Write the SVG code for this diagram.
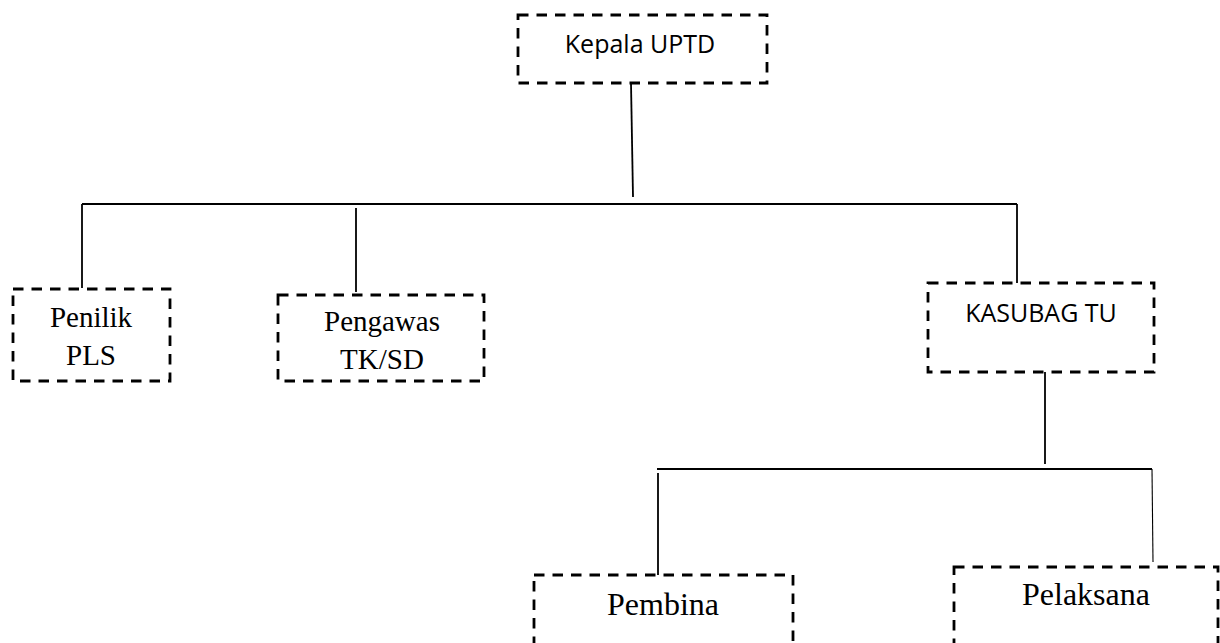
<svg xmlns="http://www.w3.org/2000/svg" width="1220" height="643" viewBox="0 0 1220 643">
<style>
.box{fill:none;stroke:#000;stroke-width:2.8;stroke-dasharray:10.5 8}
.c{fill:none;stroke:#000;stroke-width:1.8}
.thin{stroke-width:1.1}
.sans{font-family:"Open Sans","Liberation Sans",sans-serif;font-size:25px;fill:#000;text-anchor:middle}
.serif{font-family:"Liberation Serif","Times New Roman",serif;font-size:29px;fill:#000;text-anchor:middle}
.serifL{font-family:"Liberation Serif","Times New Roman",serif;font-size:32px;fill:#000;text-anchor:middle}
</style>
<rect width="1220" height="643" fill="#fff"/>
<g id="connectors">
<line class="c" x1="631" y1="83" x2="633" y2="197"/>
<line class="c" x1="82" y1="204" x2="1017" y2="204"/>
<line class="c" x1="82" y1="204" x2="82" y2="288"/>
<line class="c" x1="356" y1="208" x2="356" y2="292"/>
<line class="c" x1="1017" y1="204" x2="1017" y2="283"/>
<line class="c" x1="1045" y1="372" x2="1045" y2="464"/>
<line class="c" x1="657" y1="469" x2="1152" y2="469"/>
<line class="c" x1="658" y1="473" x2="658" y2="575"/>
<line class="c thin" x1="1152" y1="469" x2="1153" y2="562"/>
</g>
<g id="kepala">
<rect class="box" x="518" y="15" width="249" height="68"/>
<text class="sans" x="640" y="53">Kepala UPTD</text>
</g>
<g id="penilik">
<rect class="box" x="13" y="289" width="157" height="92"/>
<text class="serif" x="91" y="327">Penilik</text>
<text class="serif" x="91" y="365">PLS</text>
</g>
<g id="pengawas">
<rect class="box" x="278" y="295" width="206" height="86"/>
<text class="serif" x="382" y="331">Pengawas</text>
<text class="serif" x="382" y="369">TK/SD</text>
</g>
<g id="kasubag">
<rect class="box" x="928" y="283" width="226" height="89"/>
<text class="sans" x="1041" y="322">KASUBAG TU</text>
</g>
<g id="pembina">
<rect class="box" x="534" y="575" width="259" height="110"/>
<text class="serifL" x="663" y="615">Pembina</text>
</g>
<g id="pelaksana">
<rect class="box" x="954" y="567" width="264" height="110"/>
<text class="serifL" x="1086" y="605">Pelaksana</text>
</g>
</svg>
